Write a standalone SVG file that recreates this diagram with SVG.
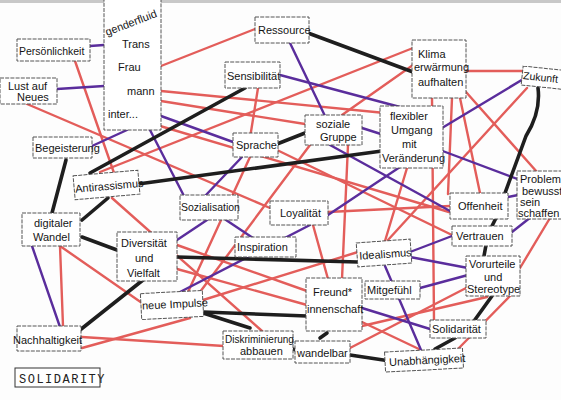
<svg xmlns="http://www.w3.org/2000/svg" width="561" height="400" viewBox="0 0 561 400">
<style>
.box{fill:#fff;stroke:#555;stroke-width:1;stroke-dasharray:4 1.2}
.t{font-family:"Liberation Sans",Arial,sans-serif;font-size:11px;fill:#151515}
.r{stroke:#e35d5a;stroke-width:2.4;stroke-linecap:round;fill:none}
.p{stroke:#5a2d9c;stroke-width:2.4;stroke-linecap:round;fill:none}
.k{stroke:#1e1e1e;stroke-width:3.6;stroke-linecap:round;fill:none}
.lbl{font-family:"Liberation Mono","DejaVu Sans Mono",monospace;font-size:12px;fill:#222;letter-spacing:1.5px}
</style>
<rect x="0" y="0" width="561" height="400" fill="#fdfdfd"/>
<rect x="0" y="0" width="561" height="3" fill="#c8c8c8"/>
<g id="connectors">
<g class="r-lines">
<line class="r" x1="161" y1="66" x2="255" y2="29"/>
<line class="r" x1="161" y1="91" x2="385" y2="113"/>
<line class="r" x1="161" y1="101" x2="305" y2="124"/>
<line class="r" x1="100" y1="172" x2="413" y2="48"/>
<line class="r" x1="342" y1="115" x2="413" y2="65"/>
<line class="r" x1="258" y1="88" x2="250" y2="138"/>
<line class="r" x1="466" y1="71" x2="525" y2="71"/>
<line class="r" x1="452" y1="98" x2="448" y2="194"/>
<line class="r" x1="460" y1="98" x2="480" y2="193"/>
<line class="r" x1="466" y1="92" x2="537" y2="172"/>
<line class="r" x1="527" y1="88" x2="388" y2="240"/>
<line class="r" x1="432" y1="98" x2="434" y2="321"/>
<line class="r" x1="75" y1="61" x2="114" y2="173"/>
<line class="r" x1="27" y1="104" x2="270" y2="208"/>
<line class="r" x1="150" y1="123" x2="449" y2="212"/>
<line class="r" x1="348" y1="145" x2="342" y2="279"/>
<line class="r" x1="407" y1="168" x2="385" y2="241"/>
<line class="r" x1="328" y1="212" x2="450" y2="206"/>
<line class="r" x1="277" y1="150" x2="452" y2="235"/>
<line class="r" x1="313" y1="225" x2="328" y2="279"/>
<line class="r" x1="550" y1="218" x2="520" y2="268"/>
<line class="r" x1="60" y1="246" x2="63" y2="326"/>
<line class="r" x1="60" y1="246" x2="142" y2="303"/>
<line class="r" x1="82" y1="337" x2="224" y2="346"/>
<line class="r" x1="82" y1="348" x2="190" y2="318"/>
<line class="r" x1="177" y1="269" x2="307" y2="305"/>
<line class="r" x1="177" y1="245" x2="307" y2="291"/>
<line class="r" x1="203" y1="300" x2="358" y2="252"/>
<line class="r" x1="350" y1="348" x2="468" y2="287"/>
<line class="r" x1="362" y1="326" x2="487" y2="297"/>
<line class="r" x1="362" y1="322" x2="421" y2="350"/>
<line class="r" x1="510" y1="296" x2="457" y2="350"/>
<line class="r" x1="112" y1="198" x2="262" y2="331"/>
<line class="r" x1="188" y1="292" x2="250" y2="157"/>
<line class="r" x1="200" y1="292" x2="310" y2="145"/>
</g>
<g class="p-lines">
<line class="p" x1="90" y1="46" x2="104" y2="45"/>
<line class="p" x1="57" y1="89" x2="104" y2="86"/>
<line class="p" x1="290" y1="43" x2="325" y2="116"/>
<line class="p" x1="161" y1="116" x2="233" y2="142"/>
<line class="p" x1="280" y1="75" x2="400" y2="107"/>
<line class="p" x1="362" y1="128" x2="384" y2="135"/>
<line class="p" x1="525" y1="78" x2="437" y2="131"/>
<line class="p" x1="440" y1="150" x2="520" y2="180"/>
<line class="p" x1="400" y1="167" x2="328" y2="215"/>
<line class="p" x1="330" y1="145" x2="450" y2="211"/>
<line class="p" x1="242" y1="157" x2="205" y2="196"/>
<line class="p" x1="150" y1="130" x2="184" y2="196"/>
<line class="p" x1="207" y1="220" x2="177" y2="240"/>
<line class="p" x1="226" y1="220" x2="253" y2="238"/>
<line class="p" x1="180" y1="292" x2="310" y2="225"/>
<line class="p" x1="32" y1="246" x2="60" y2="327"/>
<line class="p" x1="410" y1="252" x2="452" y2="236"/>
<line class="p" x1="410" y1="257" x2="468" y2="268"/>
<line class="p" x1="512" y1="232" x2="531" y2="217"/>
<line class="p" x1="508" y1="197" x2="518" y2="195"/>
<line class="p" x1="420" y1="288" x2="468" y2="275"/>
<line class="p" x1="385" y1="266" x2="421" y2="350"/>
<line class="p" x1="362" y1="308" x2="430" y2="329"/>
<line class="p" x1="92" y1="146" x2="127" y2="130"/>
</g>
<g class="k-lines">
<line class="k" x1="308" y1="33" x2="413" y2="72"/>
<line class="k" x1="90" y1="173" x2="245" y2="88"/>
<line class="k" x1="66" y1="160" x2="52" y2="213"/>
<line class="k" x1="108" y1="198" x2="82" y2="220"/>
<line class="k" x1="82" y1="237" x2="117" y2="250"/>
<line class="k" x1="138" y1="184" x2="382" y2="151"/>
<line class="k" x1="277" y1="144" x2="305" y2="133"/>
<line class="k" x1="177" y1="257" x2="358" y2="262"/>
<line class="k" x1="80" y1="330" x2="143" y2="280"/>
<line class="k" x1="203" y1="312" x2="307" y2="316"/>
<line class="k" x1="203" y1="313" x2="250" y2="328"/>
<line class="k" x1="320" y1="338" x2="327" y2="333"/>
<line class="k" x1="289" y1="348" x2="296" y2="350"/>
<line class="k" x1="350" y1="355" x2="390" y2="361"/>
<line class="k" x1="455" y1="338" x2="435" y2="349"/>
<line class="k" x1="492" y1="296" x2="474" y2="321"/>
<line class="k" x1="486" y1="245" x2="484" y2="256"/>
<line class="k" x1="496" y1="218" x2="492" y2="226"/>
<path class="k" d="M538,88 Q541,112 526,136 L505,193"/>
</g>
</g>
<g id="persoenlichkeit"><rect class="box" x="17" y="39" width="73" height="22"/><text class="t" x="19" y="55" style="font-size:10.5px">Persönlichkeit</text></g>
<g id="gender"><rect class="box" x="104" y="-2" width="57" height="132"/>
<text class="t" x="107" y="36" transform="rotate(-21 107 36)">genderfluid</text>
<text class="t" x="122" y="48">Trans</text>
<text class="t" x="118" y="71">Frau</text>
<text class="t" x="127" y="95">mann</text>
<text class="t" x="108" y="118">inter...</text></g>
<g id="lust"><rect class="box" x="0" y="78" width="57" height="26"/><text class="t" x="8" y="90">Lust auf</text><text class="t" x="17" y="101">Neues</text></g>
<g id="ressource"><rect class="box" x="255" y="17" width="54" height="26"/><text class="t" x="258" y="34">Ressource</text></g>
<g id="sensibilitaet"><rect class="box" x="225" y="62" width="55" height="26"/><text class="t" x="227" y="80">Sensibilität</text></g>
<g id="klima"><rect class="box" x="412" y="40" width="54" height="58"/><text class="t" x="418" y="58">Klima</text><text class="t" x="414" y="71">erwärmung</text><text class="t" x="418" y="86">aufhalten</text></g>
<g id="zukunft" transform="rotate(6 541 78)"><rect class="box" x="522" y="68" width="42" height="19"/><text class="t" x="523" y="81" style="font-size:10.5px">Zukunft</text></g>
<g id="begeisterung"><rect class="box" x="33" y="137" width="59" height="21"/><text class="t" x="35" y="152">Begeisterung</text></g>
<g id="antirassismus" transform="rotate(-5 106 185)"><rect class="box" x="74" y="173" width="65" height="24"/><text class="t" x="75" y="190">Antirassismus</text></g>
<g id="soziale"><rect class="box" x="305" y="115" width="57" height="30"/><text class="t" x="316" y="128">soziale</text><text class="t" x="320" y="141">Gruppe</text></g>
<g id="flexibler"><rect class="box" x="380" y="106" width="63" height="62"/><text class="t" x="390" y="120">flexibler</text><text class="t" x="391" y="134">Umgang</text><text class="t" x="402" y="148">mit</text><text class="t" x="382" y="162">Veränderung</text></g>
<g id="sprache"><rect class="box" x="233" y="133" width="45" height="24"/><text class="t" x="236" y="149">Sprache</text></g>
<g id="problem"><rect class="box" x="517" y="171" width="48" height="48"/><text class="t" x="520" y="183">Problem</text><text class="t" x="522" y="195">bewusst</text><text class="t" x="520" y="206">sein</text><text class="t" x="518" y="217">schaffen</text></g>
<g id="digital"><rect class="box" x="22" y="213" width="58" height="33"/><text class="t" x="34" y="227">digitaler</text><text class="t" x="33" y="241">Wandel</text></g>
<g id="sozialisation"><rect class="box" x="180" y="195" width="58" height="25"/><text class="t" x="181" y="211" style="font-size:10.5px">Sozialisation</text></g>
<g id="loyalitaet"><rect class="box" x="270" y="201" width="58" height="24"/><text class="t" x="280" y="217">Loyalität</text></g>
<g id="offenheit"><rect class="box" x="450" y="193" width="58" height="26"/><text class="t" x="458" y="210">Offenheit</text></g>
<g id="vertrauen"><rect class="box" x="452" y="226" width="60" height="20"/><text class="t" x="456" y="240">Vertrauen</text></g>
<g id="diversitaet"><rect class="box" x="117" y="232" width="60" height="49"/><text class="t" x="121" y="247">Diversität</text><text class="t" x="135" y="262">und</text><text class="t" x="127" y="277">Vielfalt</text></g>
<g id="inspiration"><rect class="box" x="235" y="237" width="61" height="20"/><text class="t" x="237" y="251">Inspiration</text></g>
<g id="idealismus" transform="rotate(-4 384 253)"><rect class="box" x="357" y="241" width="54" height="24"/><text class="t" x="359" y="258">Idealismus</text></g>
<g id="vorurteile"><rect class="box" x="466" y="256" width="54" height="40"/><text class="t" x="469" y="268">Vorurteile</text><text class="t" x="484" y="281">und</text><text class="t" x="467" y="293">Stereotype</text></g>
<g id="impulse" transform="rotate(-3 172 305)"><rect class="box" x="141" y="292" width="62" height="26"/><text class="t" x="142" y="308">neue Impulse</text></g>
<g id="freund"><rect class="box" x="306" y="278" width="56" height="53"/><text class="t" x="313" y="296">Freund*</text><text class="t" x="307" y="313">innenschaft</text></g>
<g id="mitgefuehl"><rect class="box" x="365" y="281" width="55" height="18"/><text class="t" x="367" y="294">Mitgefühl</text></g>
<g id="solidaritaet"><rect class="box" x="430" y="320" width="56" height="18"/><text class="t" x="432" y="333">Solidarität</text></g>
<g id="nachhaltigkeit"><rect class="box" x="17" y="326" width="64" height="25"/><text class="t" x="13" y="344">Nachhaltigkeit</text></g>
<g id="diskriminierung"><rect class="box" x="223" y="331" width="70" height="28"/><text class="t" x="225" y="343" style="font-size:10px">Diskriminierung</text><text class="t" x="240" y="355">abbauen</text></g>
<g id="wandelbar"><rect class="box" x="295" y="341" width="55" height="22"/><text class="t" x="297" y="357">wandelbar</text></g>
<g id="unabhaengigkeit" transform="rotate(-3 425 360)"><rect class="box" x="385" y="350" width="78" height="20"/><text class="t" x="389" y="364">Unabhängigkeit</text></g>
<g id="solidarity"><rect x="15" y="368" width="85" height="19" fill="#fff" stroke="#333" stroke-width="1"/><text class="lbl" x="19" y="383">SOLIDARITY</text></g>
</svg>
